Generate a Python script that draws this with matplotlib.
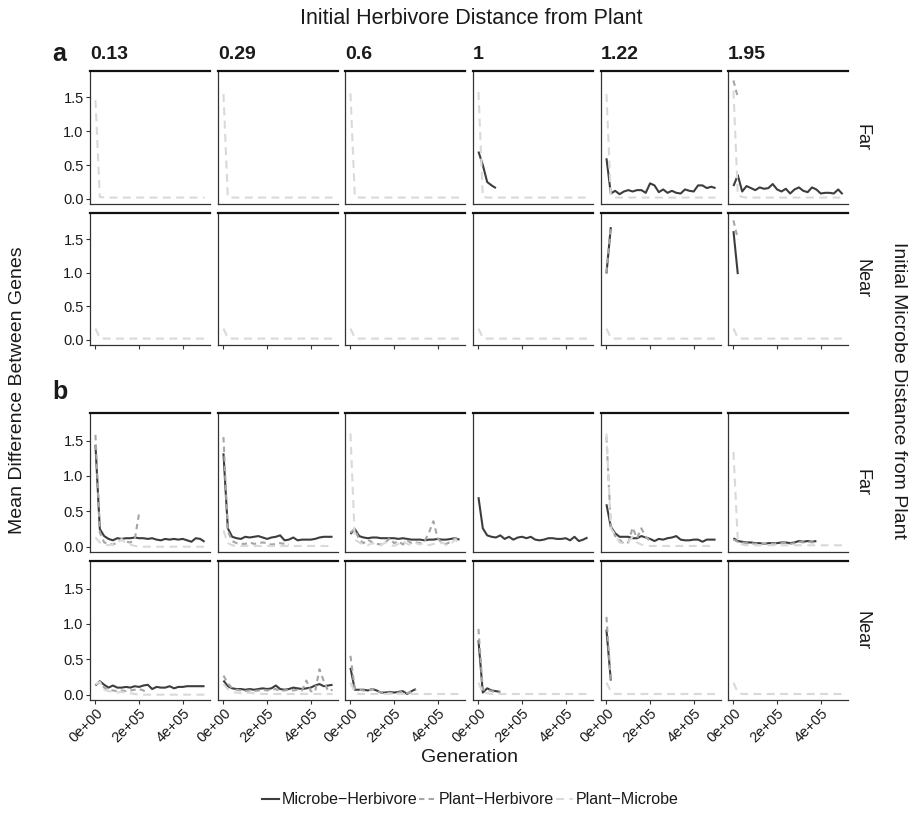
import matplotlib
matplotlib.use("Agg")
import matplotlib.pyplot as plt
from matplotlib.lines import Line2D

plt.rcParams['font.family'] = ['Liberation Sans', 'DejaVu Sans']

# ---- data -------------------------------------------------------------
# Each series is sampled every GEN_STEP generations, starting at generation 0.
GEN_STEP = 20000
herbivore_dist = ["0.13", "0.29", "0.6", "1", "1.22", "1.95"]
microbe_dist = ["Far", "Near"]
pair_labels = ["Microbe\u2212Herbivore", "Plant\u2212Herbivore", "Plant\u2212Microbe"]
x_ticks = [0, 200000, 400000]
x_tick_labels = ["0e+00", "2e+05", "4e+05"]
y_ticks = [0.0, 0.5, 1.0, 1.5]
y_tick_labels = ["0.0", "0.5", "1.0", "1.5"]

# panel a, far microbes (one entry per herbivore distance)
A_FAR_MH = [
    None, None, None,
    [0.70, 0.50, 0.25, 0.20, 0.16],
    [0.60, 0.08, 0.12, 0.07, 0.11, 0.13, 0.11, 0.13, 0.13, 0.09, 0.23, 0.20, 0.10,
     0.14, 0.09, 0.12, 0.09, 0.08, 0.14, 0.12, 0.11, 0.20, 0.20, 0.16, 0.18, 0.16],
    [0.19, 0.35, 0.11, 0.19, 0.16, 0.13, 0.17, 0.15, 0.16, 0.22, 0.14, 0.11, 0.15,
     0.08, 0.14, 0.17, 0.12, 0.10, 0.17, 0.14, 0.08, 0.09, 0.09, 0.08, 0.14, 0.07],
]
A_FAR_PH = [None, None, None, None, None, [1.75, 1.50]]
A_FAR_PM = [
    [1.46, 0.03, 0.02, 0.02, 0.02, 0.02, 0.02, 0.02, 0.02, 0.02, 0.02, 0.02, 0.02,
     0.02, 0.02, 0.02, 0.02, 0.02, 0.02, 0.02, 0.02, 0.02, 0.02, 0.02, 0.02, 0.02],
    [1.55, 0.03, 0.02, 0.02, 0.02, 0.02, 0.02, 0.02, 0.02, 0.02, 0.02, 0.02, 0.02,
     0.02, 0.02, 0.02, 0.02, 0.02, 0.02, 0.02, 0.02, 0.02, 0.02, 0.02, 0.02, 0.02],
    [1.56, 0.03, 0.02, 0.02, 0.02, 0.02, 0.02, 0.02, 0.02, 0.02, 0.02, 0.02, 0.02,
     0.02, 0.02, 0.02, 0.02, 0.02, 0.02, 0.02, 0.02, 0.02, 0.02, 0.02, 0.02, 0.02],
    [1.58, 0.03, 0.02, 0.02, 0.02, 0.02, 0.02, 0.02, 0.02, 0.02, 0.02, 0.02, 0.02,
     0.02, 0.02, 0.02, 0.02, 0.02, 0.02, 0.02, 0.02, 0.02, 0.02, 0.02, 0.02, 0.02],
    [1.55, 0.04, 0.02, 0.02, 0.02, 0.02, 0.02, 0.02, 0.02, 0.02, 0.02, 0.02, 0.02,
     0.02, 0.02, 0.02, 0.02, 0.02, 0.02, 0.02, 0.02, 0.02, 0.02, 0.02, 0.02, 0.02],
    [1.60, 0.05, 0.03, 0.02, 0.02, 0.02, 0.02, 0.02, 0.02, 0.02, 0.02, 0.02, 0.02,
     0.02, 0.02, 0.02, 0.02, 0.02, 0.02, 0.02, 0.02, 0.02, 0.02, 0.02, 0.02, 0.02],
]

# panel a, near microbes
A_NEAR_MH = [None, None, None, None, [0.99, 1.68], [1.62, 0.98]]
A_NEAR_PH = [None, None, None, None, [1.00, 1.70], [1.78, 1.50]]
A_NEAR_PM = [
    [0.17, 0.03, 0.02, 0.02, 0.02, 0.02, 0.02, 0.02, 0.02, 0.02, 0.02, 0.02, 0.02,
     0.02, 0.02, 0.02, 0.02, 0.02, 0.02, 0.02, 0.02, 0.02, 0.02, 0.02, 0.02, 0.02],
    [0.17, 0.03, 0.02, 0.02, 0.02, 0.02, 0.02, 0.02, 0.02, 0.02, 0.02, 0.02, 0.02,
     0.02, 0.02, 0.02, 0.02, 0.02, 0.02, 0.02, 0.02, 0.02, 0.02, 0.02, 0.02, 0.02],
    [0.17, 0.03, 0.02, 0.02, 0.02, 0.02, 0.02, 0.02, 0.02, 0.02, 0.02, 0.02, 0.02,
     0.02, 0.02, 0.02, 0.02, 0.02, 0.02, 0.02, 0.02, 0.02, 0.02, 0.02, 0.02, 0.02],
    [0.17, 0.03, 0.02, 0.02, 0.02, 0.02, 0.02, 0.02, 0.02, 0.02, 0.02, 0.02, 0.02,
     0.02, 0.02, 0.02, 0.02, 0.02, 0.02, 0.02, 0.02, 0.02, 0.02, 0.02, 0.02, 0.02],
    [0.17, 0.03, 0.02, 0.02, 0.02, 0.02, 0.02, 0.02, 0.02, 0.02, 0.02, 0.02, 0.02,
     0.02, 0.02, 0.02, 0.02, 0.02, 0.02, 0.02, 0.02, 0.02, 0.02, 0.02, 0.02, 0.02],
    [0.17, 0.03, 0.02, 0.02, 0.02, 0.02, 0.02, 0.02, 0.02, 0.02, 0.02, 0.02, 0.02,
     0.02, 0.02, 0.02, 0.02, 0.02, 0.02, 0.02, 0.02, 0.02, 0.02, 0.02, 0.02, 0.02],
]

# panel b, far microbes
B_FAR_MH = [
    [1.44, 0.25, 0.15, 0.11, 0.09, 0.12, 0.11, 0.12, 0.12, 0.13, 0.12, 0.12, 0.11,
     0.12, 0.10, 0.09, 0.11, 0.10, 0.11, 0.10, 0.11, 0.09, 0.07, 0.12, 0.11, 0.07],
    [1.32, 0.26, 0.14, 0.12, 0.11, 0.14, 0.13, 0.14, 0.15, 0.13, 0.11, 0.13, 0.14,
     0.16, 0.09, 0.10, 0.13, 0.09, 0.10, 0.10, 0.10, 0.11, 0.13, 0.14, 0.14, 0.14],
    [0.18, 0.25, 0.15, 0.13, 0.12, 0.13, 0.13, 0.12, 0.12, 0.12, 0.12, 0.11, 0.12,
     0.11, 0.10, 0.10, 0.10, 0.09, 0.10, 0.10, 0.11, 0.10, 0.10, 0.11, 0.12, 0.10],
    [0.70, 0.26, 0.16, 0.14, 0.13, 0.16, 0.11, 0.14, 0.10, 0.13, 0.14, 0.12, 0.14,
     0.10, 0.09, 0.10, 0.12, 0.12, 0.11, 0.11, 0.12, 0.09, 0.14, 0.08, 0.10, 0.13],
    [0.60, 0.28, 0.19, 0.14, 0.14, 0.14, 0.12, 0.12, 0.15, 0.13, 0.11, 0.08, 0.11,
     0.10, 0.12, 0.13, 0.15, 0.10, 0.09, 0.09, 0.10, 0.10, 0.07, 0.10, 0.10, 0.10],
    [0.12, 0.08, 0.07, 0.06, 0.06, 0.05, 0.05, 0.04, 0.05, 0.05, 0.05, 0.06, 0.06,
     0.05, 0.06, 0.08, 0.07, 0.08, 0.07, 0.08],
]
B_FAR_PH = [
    [1.58, 0.20, 0.06, 0.04, 0.03, 0.06, 0.11, 0.07, 0.06, 0.10, 0.47],
    [1.55, 0.22, 0.08, 0.05, 0.04, 0.04, 0.06, 0.04, 0.05, 0.06, 0.05, 0.03, 0.04,
     0.05, 0.04, 0.03],
    [0.20, 0.25, 0.10, 0.05, 0.10, 0.06, 0.04, 0.03, 0.06, 0.12, 0.05, 0.08, 0.03,
     0.09, 0.05, 0.06, 0.05, 0.08, 0.20, 0.36, 0.12, 0.05, 0.04, 0.07, 0.12, 0.08],
    None,
    [1.55, 0.30, 0.15, 0.10, 0.04, 0.06, 0.27, 0.12, 0.26, 0.14, 0.08],
    [0.10, 0.07, 0.06, 0.05, 0.05, 0.04, 0.05, 0.04, 0.05, 0.04, 0.05, 0.05, 0.06,
     0.04, 0.05, 0.07, 0.06, 0.07, 0.06, 0.07],
]
B_FAR_PM = [
    [0.13, 0.06, 0.03, 0.02, 0.03, 0.06, 0.10, 0.05, 0.03, 0.01, 0.00, 0.00, 0.00,
     0.00, 0.00, 0.00, 0.00, 0.00, 0.00, 0.00, 0.00, 0.00, 0.00, 0.00, 0.00, 0.00],
    [0.23, 0.05, 0.02, 0.01, 0.01, 0.01, 0.01, 0.01, 0.01, 0.01, 0.01, 0.01, 0.01,
     0.01, 0.01, 0.01, 0.01, 0.01, 0.01, 0.01, 0.01, 0.01, 0.01, 0.01, 0.01, 0.01],
    [1.60, 0.10, 0.06, 0.03, 0.02, 0.05, 0.03, 0.02, 0.06, 0.03, 0.01, 0.04, 0.08,
     0.04, 0.02, 0.05, 0.03, 0.06, 0.02, 0.04, 0.03, 0.06, 0.02, 0.04, 0.10, 0.05],
    None,
    [1.60, 0.26, 0.17, 0.06, 0.05, 0.07, 0.14, 0.06, 0.03, 0.02, 0.01, 0.01, 0.01,
     0.01, 0.01, 0.01, 0.01, 0.01, 0.01, 0.01, 0.01, 0.01, 0.01, 0.01, 0.01, 0.01],
    [1.34, 0.08, 0.03, 0.02, 0.02, 0.02, 0.02, 0.02, 0.02, 0.02, 0.02, 0.02, 0.02,
     0.02, 0.02, 0.02, 0.02, 0.02, 0.02, 0.02, 0.02, 0.02, 0.02, 0.02, 0.02, 0.02],
]

# panel b, near microbes
B_NEAR_MH = [
    [0.13, 0.19, 0.14, 0.10, 0.13, 0.10, 0.10, 0.11, 0.10, 0.12, 0.11, 0.13, 0.14,
     0.08, 0.11, 0.10, 0.10, 0.12, 0.09, 0.11, 0.11, 0.12, 0.12, 0.12, 0.12, 0.12],
    [0.20, 0.12, 0.09, 0.08, 0.08, 0.07, 0.08, 0.07, 0.08, 0.09, 0.08, 0.09, 0.13,
     0.08, 0.07, 0.08, 0.10, 0.09, 0.08, 0.09, 0.10, 0.13, 0.15, 0.12, 0.13, 0.14],
    [0.38, 0.07, 0.07, 0.07, 0.06, 0.08, 0.06, 0.03, 0.03, 0.04, 0.03, 0.04, 0.05,
     0.01, 0.05, 0.08],
    [0.77, 0.03, 0.09, 0.06, 0.05, 0.04],
    [0.92, 0.20],
    None,
]
B_NEAR_PH = [
    [0.14, 0.17, 0.10, 0.07, 0.06, 0.05, 0.06, 0.05, 0.06, 0.07, 0.08, 0.06, 0.02],
    [0.27, 0.16, 0.09, 0.07, 0.06, 0.05, 0.06, 0.05, 0.06, 0.07, 0.06, 0.07, 0.08,
     0.05, 0.06, 0.07, 0.06, 0.07, 0.06, 0.20, 0.05, 0.04, 0.36, 0.19, 0.05, 0.07],
    [0.55, 0.08, 0.07, 0.06, 0.06, 0.08, 0.05, 0.03, 0.03, 0.03, 0.02, 0.03, 0.04,
     0.02, 0.04, 0.07],
    [0.93, 0.07, 0.07, 0.05, 0.04, 0.03],
    [1.10, 0.20],
    None,
]
B_NEAR_PM = [
    [0.15, 0.18, 0.07, 0.05, 0.04, 0.03, 0.04, 0.03, 0.02, 0.01, 0.00, 0.00, 0.00,
     0.00, 0.00, 0.00, 0.00, 0.00, 0.00, 0.00, 0.00, 0.00, 0.00, 0.00, 0.00, 0.00],
    [0.15, 0.08, 0.04, 0.03, 0.02, 0.02, 0.03, 0.02, 0.02, 0.01, 0.01, 0.01, 0.01,
     0.01, 0.01, 0.01, 0.01, 0.01, 0.01, 0.01, 0.01, 0.01, 0.01, 0.01, 0.01, 0.01],
    [0.17, 0.03, 0.01, 0.01, 0.01, 0.01, 0.01, 0.01, 0.01, 0.01, 0.01, 0.01, 0.01,
     0.01, 0.01, 0.01, 0.01, 0.01, 0.01, 0.01, 0.01, 0.01, 0.01, 0.01, 0.01, 0.01],
    [0.17, 0.03, 0.02, 0.01, 0.01, 0.01, 0.01, 0.01, 0.01, 0.01, 0.01, 0.01, 0.01,
     0.01, 0.01, 0.01, 0.01, 0.01, 0.01, 0.01, 0.01, 0.01, 0.01, 0.01, 0.01, 0.01],
    [0.17, 0.05, 0.01, 0.01, 0.01, 0.01, 0.01, 0.01, 0.01, 0.01, 0.01, 0.01, 0.01,
     0.01, 0.01, 0.01, 0.01, 0.01, 0.01, 0.01, 0.01, 0.01, 0.01, 0.01, 0.01, 0.01],
    [0.17, 0.03, 0.01, 0.01, 0.01, 0.01, 0.01, 0.01, 0.01, 0.01, 0.01, 0.01, 0.01,
     0.01, 0.01, 0.01, 0.01, 0.01, 0.01, 0.01, 0.01, 0.01, 0.01, 0.01, 0.01, 0.01],
]

# ---- styling ----------------------------------------------------------
W, H = 916, 819
DPI = 100
styles = [
    dict(color="#3d3d3d", lw=1.5, ls="-"),
    dict(color="#a6a6a6", lw=1.5, ls=(0, (2.6, 2.0))),
    dict(color="#d9d9d9", lw=1.5, ls=(0, (3.8, 2.6))),
]
TEXT = "#1a1a1a"
AXIS = "#333333"

col_left = [90, 218, 345, 473, 601, 728]
col_w = 120
# (top, height) in pixels for each panel row
rows = {
    ("a", 0): (71, 133),
    ("a", 1): (213, 132),
    ("b", 0): (413, 139),
    ("b", 1): (561, 139),
}
data = {
    ("a", 0): (A_FAR_MH, A_FAR_PH, A_FAR_PM),
    ("a", 1): (A_NEAR_MH, A_NEAR_PH, A_NEAR_PM),
    ("b", 0): (B_FAR_MH, B_FAR_PH, B_FAR_PM),
    ("b", 1): (B_NEAR_MH, B_NEAR_PH, B_NEAR_PM),
}

fig = plt.figure(figsize=(W / DPI, H / DPI), dpi=DPI)


def px_axes(left, top, width, height):
    return fig.add_axes([left / W, 1 - (top + height) / H, width / W, height / H])


for (section, r), (top, height) in rows.items():
    series_sets = data[(section, r)]
    for c, left in enumerate(col_left):
        ax = px_axes(left, top, col_w, height)
        for s_idx, series in enumerate(series_sets):
            vals = series[c]
            if vals is None:
                continue
            gens = [i * GEN_STEP for i in range(len(vals))]
            ax.plot(gens, vals, solid_capstyle="butt", dash_capstyle="butt",
                    **styles[s_idx])
        ax.set_xlim(-25000, 525000)
        ax.set_ylim(-0.075, 1.89)
        ax.spines["right"].set_visible(False)
        ax.spines["top"].set_linewidth(1.6)
        ax.spines["top"].set_color("#111111")
        for side in ("left", "bottom"):
            ax.spines[side].set_linewidth(0.9)
            ax.spines[side].set_color(AXIS)
        ax.tick_params(length=3, width=0.8, color=AXIS, labelcolor=TEXT,
                       labelsize=10.5, pad=1.5)
        if c == 0:
            ax.set_yticks(y_ticks)
            ax.set_yticklabels(y_tick_labels)
        else:
            ax.set_yticks([])
        if r == 1:
            ax.set_xticks(x_ticks)
            if section == "b":
                ax.set_xticklabels(x_tick_labels, rotation=45, ha="right",
                                   rotation_mode="anchor")
            else:
                ax.set_xticklabels([])
        else:
            ax.set_xticks([])
        if section == "a" and r == 0:
            ax.text(0.0, 1.06, herbivore_dist[c], transform=ax.transAxes,
                    fontsize=14, fontweight="bold", color=TEXT, ha="left",
                    va="bottom")
        if c == len(col_left) - 1:
            ax.text(1.12, 0.5, microbe_dist[r], transform=ax.transAxes,
                    rotation=-90, fontsize=13, color=TEXT, ha="center",
                    va="center")

# section letters
fig.text(52 / W, 1 - 54 / H, "a", fontsize=18, fontweight="bold", color=TEXT,
         ha="left", va="center")
fig.text(52 / W, 1 - 392 / H, "b", fontsize=18, fontweight="bold", color=TEXT,
         ha="left", va="center")

# axis titles
fig.text(471 / W, 1 - 18 / H, "Initial Herbivore Distance from Plant",
         fontsize=15.5, color=TEXT, ha="center", va="center")
fig.text(470 / W, 1 - 758 / H, "Generation", fontsize=14, color=TEXT,
         ha="center", va="center")
fig.text(18 / W, 1 - 390 / H, "Mean Difference Between Genes", fontsize=14,
         color=TEXT, ha="center", va="center", rotation=90)
fig.text(899 / W, 1 - 390 / H, "Initial Microbe Distance from Plant",
         fontsize=14, color=TEXT, ha="center", va="center", rotation=-90)

# legend
handles = [Line2D([], [], **st) for st in styles]
fig.legend(handles, pair_labels, loc="center", bbox_to_anchor=(470 / W, 1 - 800 / H),
           ncol=3, frameon=False, fontsize=11.5, handlelength=1.1,
           handletextpad=0.15, columnspacing=0.1, labelcolor=TEXT)

fig.savefig("out.png", dpi=DPI)
